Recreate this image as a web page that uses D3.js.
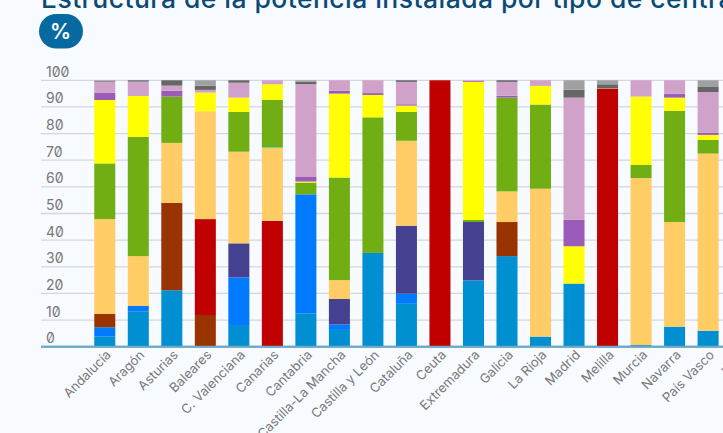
<!DOCTYPE html>
<html>
<head>
<meta charset="utf-8">
<script src="https://cdn.jsdelivr.net/npm/d3@7"></script>
<style>
  html, body { margin: 0; padding: 0; background: #f7fbff; overflow: hidden; }
  svg { display: block; }
  text { font-family: Inter, sans-serif; }
  .tick-label { font-feature-settings: "zero" 1; }
</style>
</head>
<body>
<div id="chart"></div>
<script>
var width = 723, height = 433
var margin = {left: 88, top: 80.3, bottom: 86.3}

var categories = ['Andalucía', 'Aragón', 'Asturias', 'Baleares', 'C. Valenciana', 'Canarias', 'Cantabria',
  'Castilla-La Mancha', 'Castilla y León', 'Cataluña', 'Ceuta', 'Extremadura', 'Galicia', 'La Rioja',
  'Madrid', 'Melilla', 'Murcia', 'Navarra', 'País Vasco', 'Total']

var yTicks = [0, 10, 20, 30, 40, 50, 60, 70, 80, 90, 100]

var seriesNames = ['hidraulica', 'bombeo', 'nuclear', 'carbon', 'fuelGas', 'cicloCombinado', 'hidroeolica',
  'eolica', 'solarFv', 'solarTermica', 'cogeneracion', 'residuos', 'otros']
var seriesColors = ['#008fd1', '#007bff', '#45408f', '#993300', '#c00000', '#ffcc66', '#00c9a7',
  '#70ae13', '#ffff00', '#9b5cb9', '#d0a2c9', '#666666', '#a0a0a0']

// one value per category, Total runs off the right edge so it has no readable bar
var hidraulica     = [3.9, 13.3, 21.2, 0, 7.8, 0, 12.5, 6.3, 35.2, 16.1, 0, 24.9, 34, 3.8, 23.7, 0, 0.6, 7.5, 6, 0]
var bombeo         = [3.4, 2, 0, 0, 18.2, 0, 44.7, 2.1, 0, 3.8, 0, 0, 0, 0, 0, 0, 0, 0, 0, 0]
var nuclear        = [0, 0, 0, 0, 12.8, 0, 0, 9.5, 0, 25.5, 0, 21.9, 0, 0, 0, 0, 0, 0, 0, 0]
var carbon         = [5, 0, 32.8, 11.9, 0, 0, 0, 0, 0, 0, 0, 0, 12.8, 0, 0, 0, 0, 0, 0, 0]
var fuelGas        = [0, 0, 0, 36, 0, 47.2, 0, 0, 0, 0, 100, 0, 0, 0, 0, 96.9, 0, 0, 0, 0]
var cicloCombinado = [35.6, 18.7, 22.5, 40.5, 34.4, 27.5, 0, 7.1, 0, 31.9, 0, 0, 11.5, 55.5, 0, 0.1, 62.7, 39.3, 66.5, 0]
var hidroeolica    = [0, 0, 0, 0, 0, 0.2, 0, 0, 0, 0, 0, 0, 0, 0, 0, 0, 0, 0, 0, 0]
var eolica         = [20.9, 44.8, 17.4, 0, 14.9, 17.7, 4.4, 38.5, 50.9, 10.8, 0, 0.8, 35.2, 31.6, 0, 0, 4.9, 41.7, 5.1, 0]
var solarFv        = [23.8, 15.3, 0, 7, 5.4, 5.9, 0.4, 31.5, 8.4, 2.4, 0, 51.8, 0, 7, 14, 0, 25.7, 5, 1.9, 0]
var solarTermica   = [2.8, 0, 2.2, 0, 0, 0, 1.7, 1.1, 0.7, 0.5, 0, 0.3, 0.7, 0, 9.9, 0, 0, 1.5, 0.9, 0]
var cogeneracion   = [4.1, 5.4, 1.9, 1, 5.6, 1.5, 34.9, 3.9, 4.8, 8.4, 0, 0.3, 5.2, 2.1, 45.9, 0, 6.1, 5, 15.2, 0]
var residuos       = [0.3, 0.5, 2, 1.6, 0.9, 0, 0.9, 0, 0, 0.6, 0, 0, 0.6, 0, 3, 1.5, 0, 0, 2.1, 0]
var otros          = [0.2, 0, 0, 2, 0, 0, 0.5, 0, 0, 0, 0, 0, 0, 0, 3.5, 1.5, 0, 0, 2.3, 0]

var seriesValues = [hidraulica, bombeo, nuclear, carbon, fuelGas, cicloCombinado, hidroeolica,
  eolica, solarFv, solarTermica, cogeneracion, residuos, otros]

var rows = categories.map(function(c, i){
  var row = {category: c}
  seriesNames.forEach(function(s, j){ row[s] = seriesValues[j][i] })
  return row
})

var stacked = d3.stack().keys(seriesNames)(rows)

var x = d3.scaleBand()
    .domain(categories)
    .range([88, 88 + 33.52 * categories.length])
    .paddingInner(0.373)
    .paddingOuter(0.187)

var y = d3.scaleLinear()
    .domain([0, 100])
    .range([height - margin.bottom, margin.top])

var svg = d3.select('#chart')
    .append('svg')
      .attr('width', width)
      .attr('height', height)

svg.append('text')
    .attr('x', 41)
    .attr('y', 8)
    .attr('font-size', 26.5)
    .attr('font-weight', 500)
    .attr('letter-spacing', 0.45)
    .attr('fill', '#0b4a75')
    .text('Estructura de la potencia instalada por tipo de centrales')

svg.append('rect')
    .attr('x', 39)
    .attr('y', 14)
    .attr('width', 44)
    .attr('height', 34.5)
    .attr('rx', 17.25)
    .attr('fill', '#06699f')

svg.append('text')
    .attr('x', 60.5)
    .attr('y', 39)
    .attr('text-anchor', 'middle')
    .attr('font-size', 21)
    .attr('font-weight', 600)
    .attr('fill', '#fff')
    .text('%')

// grid and y labels
var grid = svg.append('g')
    .selectAll('g')
    .data(yTicks)
    .join('g')
      .attr('transform', function(d){ return 'translate(0,' + y(d) + ')' })

grid.append('line')
    .attr('x1', 41)
    .attr('x2', width)
    .attr('stroke', function(d){ return d == 0 ? '#6fa9c9' : '#d3d6da' })
    .attr('stroke-width', function(d){ return d == 0 ? 2 : 1.3 })

grid.append('text')
    .attr('class', 'tick-label')
    .attr('x', 46)
    .attr('y', -3.5)
    .attr('font-size', 14)
    .attr('fill', '#777')
    .text(function(d){ return d })

// stacked bars
svg.append('g')
    .selectAll('g')
    .data(stacked)
    .join('g')
      .attr('fill', function(d, i){ return seriesColors[i] })
    .selectAll('rect')
    .data(function(d){ return d.filter(function(p){ return p[1] > p[0] }) })
    .join('rect')
      .attr('x', function(d){ return x(d.data.category) })
      .attr('y', function(d){ return y(d[1]) })
      .attr('width', x.bandwidth())
      .attr('height', function(d){ return y(d[0]) - y(d[1]) })

// redraw the base line over the bars
svg.append('line')
    .attr('x1', 41)
    .attr('x2', width)
    .attr('y1', y(0))
    .attr('y2', y(0))
    .attr('stroke', '#6fa9c9')
    .attr('stroke-width', 2)

// rotated category labels
svg.append('g')
    .selectAll('text')
    .data(categories)
    .join('text')
      .attr('transform', function(d){
        return 'translate(' + (x(d) + x.bandwidth() / 2 + 7) + ',' + (y(0) + 9) + ') rotate(-45)'
      })
      .attr('text-anchor', 'end')
      .attr('font-size', 13)
      .attr('fill', '#777')
      .text(function(d){ return d })
</script>
</body>
</html>
